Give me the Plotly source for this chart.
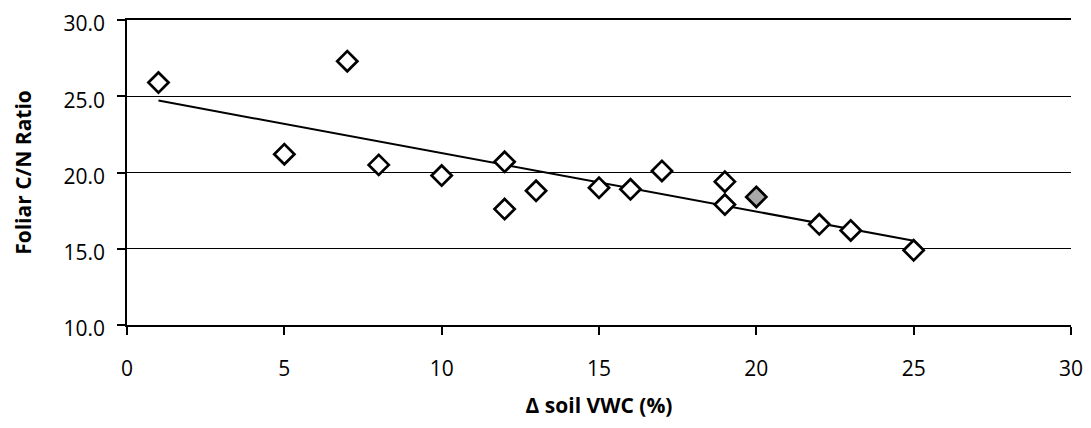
import numpy as np
import plotly.graph_objects as go

# Data
vwc = [1, 5, 7, 8, 10, 12, 12, 13, 15, 16, 17, 19, 19, 20, 22, 23, 25]
cn_ratio = [25.9, 21.2, 27.3, 20.5, 19.8, 20.7, 17.6, 18.8, 19.0, 18.9, 20.1,
            19.4, 17.9, 18.4, 16.6, 16.2, 14.9]
x_ticks = [0, 5, 10, 15, 20, 25, 30]
y_ticks = [10, 15, 20, 25, 30]

# Linear trendline (least squares) over the data range
slope, intercept = np.polyfit(vwc, cn_ratio, 1)
trend_x = [min(vwc), max(vwc)]
trend_y = [slope * v + intercept for v in trend_x]

# one marker in the scan appears shaded grey
fills = ["#a8a8a8" if v == 20 else "white" for v in vwc]

FONT = "Open Sans"

fig = go.Figure()
fig.add_trace(go.Scatter(
    x=trend_x, y=trend_y, mode="lines",
    line=dict(color="black", width=2), showlegend=False, hoverinfo="skip"))
fig.add_trace(go.Scatter(
    x=vwc, y=cn_ratio, mode="markers",
    marker=dict(symbol="diamond", size=15.5, color=fills,
                line=dict(color="black", width=2.7)),
    showlegend=False))

# page body has an 8px default margin, so the figure is sized to fit
fig.update_layout(
    width=1083, height=420,
    margin=dict(l=119, r=20, t=12, b=103),
    paper_bgcolor="white", plot_bgcolor="white",
    font=dict(family=FONT, color="black", size=21),
)
fig.update_xaxes(
    range=[0, 30], tickvals=x_ticks, ticktext=[str(v) for v in x_ticks],
    showgrid=False, zeroline=False, automargin=False,
    showline=True, linecolor="black", linewidth=1.5, mirror=True,
    ticks="outside", ticklen=8, tickcolor="black", tickwidth=1.5,
    ticklabelstandoff=16, ticklabeloverflow="allow",
    tickfont=dict(family=FONT, size=21, color="black"),
    title=dict(text="<b>Δ soil VWC (%)</b>", standoff=17,
               font=dict(family=FONT, size=21, color="black")),
)
fig.update_yaxes(
    range=[10, 30], tickvals=y_ticks, ticktext=[f"{v:.1f}" for v in y_ticks],
    showgrid=True, gridcolor="black", gridwidth=1.2, zeroline=False,
    automargin=False,
    showline=True, linecolor="black", linewidth=1.5,
    ticks="outside", ticklen=8, tickcolor="black", tickwidth=1.5,
    ticklabelstandoff=8, ticklabelshift=4, ticklabeloverflow="allow",
    tickfont=dict(family=FONT, size=21, color="black"),
    title=dict(text="<b>Foliar C/N Ratio</b>", standoff=26,
               font=dict(family=FONT, size=21, color="black")),
)

fig.write_html("out.html")
